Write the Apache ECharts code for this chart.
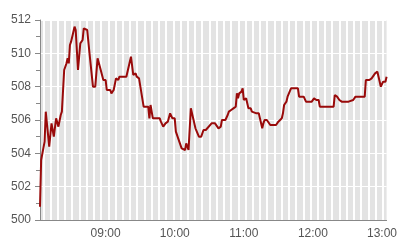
<!DOCTYPE html>
<html><head><meta charset="utf-8">
<script src="https://cdn.jsdelivr.net/npm/echarts@6/dist/echarts.min.js"></script>
<style>html,body{margin:0;padding:0;background:#fff}#c{width:400px;height:240px}</style>
</head><body><div id="c"></div>
<script>
const times = ['08:03','08:04','08:07','08:08','08:09','08:11','08:13','08:15','08:17','08:19','08:21','08:22','08:24','08:26','08:27','08:28','08:29','08:30','08:33','08:34','08:36','08:38','08:40','08:41','08:44','08:46','08:47','08:49','08:51','08:53','08:55','08:56','08:58','09:00','09:01','09:04','09:05','09:07','09:09','09:11','09:12','09:18','09:20','09:22','09:24','09:26','09:27','09:29','09:30','09:33','09:37','09:38','09:39','09:40','09:41','09:47','09:48','09:50','09:52','09:54','09:56','09:58','10:00','10:01','10:03','10:06','10:09','10:10','10:12','10:14','10:17','10:18','10:21','10:23','10:25','10:27','10:32','10:35','10:38','10:40','10:41','10:44','10:46','10:47','10:49','10:51','10:53','10:54','10:55','10:56','10:58','10:59','11:00','11:02','11:04','11:06','11:07','11:11','11:13','11:14','11:16','11:17','11:18','11:20','11:23','11:28','11:30','11:33','11:34','11:35','11:37','11:38','11:41','11:47','11:48','11:52','11:54','11:59','12:01','12:03','12:05','12:06','12:18','12:19','12:21','12:23','12:25','12:31','12:32','12:35','12:37','12:45','12:46','12:49','12:51','12:52','12:54','12:56','12:57','12:59','13:00','13:01','13:03','13:04'];
const prices = [500.8,503.6,504.7,506.5,506.6,504.4,505.8,505.0,506.1,505.6,506.3,506.5,509.0,509.4,509.7,509.4,510.5,510.7,511.6,511.4,509.0,510.6,510.8,511.5,511.4,510.0,509.9,508.0,508.0,509.7,509.2,509.2,508.4,508.4,507.8,507.8,507.6,507.8,508.5,508.4,508.6,508.6,509.2,509.8,508.7,508.8,508.6,508.5,508.6,506.8,506.8,506.1,506.9,506.8,506.1,506.1,505.9,505.6,505.8,505.9,506.4,506.1,506.1,505.3,504.9,504.3,504.2,504.6,504.2,506.7,505.8,505.5,505.0,505.0,505.4,505.4,505.8,505.8,505.5,505.6,506.0,506.0,506.3,506.5,506.6,506.7,506.8,507.6,507.3,507.6,507.7,507.9,507.2,507.3,506.7,506.7,506.5,506.4,506.4,506.1,505.5,505.8,506.0,506.0,505.7,505.7,505.9,506.1,506.4,506.9,507.1,507.4,507.9,507.9,507.4,507.4,507.1,507.1,507.3,507.2,507.2,506.8,506.8,507.5,507.4,507.2,507.1,507.1,507.2,507.2,507.4,507.4,508.4,508.4,508.5,508.6,508.8,508.9,508.6,508.0,508.0,508.3,508.3,508.6];
const hourLabels = ['09:00','10:00','11:00','12:00','13:00'];
const yMin = 500, yMax = 512, yStep = 2;

function toMin(s){ const p = s.split(':'); return (+p[0]) * 60 + (+p[1]); }
function fmt(m){ const h = Math.floor(m / 60), mm = Math.round(m % 60); return (h < 10 ? '0' : '') + h + ':' + (mm < 10 ? '0' : '') + mm; }

const seriesData = times.map((t, i) => [toMin(t), prices[i]]);
const xMin = toMin(times[0]), xMax = toMin(times[times.length - 1]);

// vertical background stripes (style only)
const stripeVals = [];
for (let k = 0; k < 48; k++) stripeVals.push(485.83 + 6.274 * k);

const chart = echarts.init(document.getElementById('c'), null, {renderer: 'canvas'});
chart.setOption({
  animation: false,
  grid: {left: 40, right: 9, top: 20, bottom: 20, show: true, backgroundColor: '#e3e3e3', borderWidth: 0},
  xAxis: {
    type: 'value', min: xMin, max: xMax,
    axisLine: {show: true, lineStyle: {color: '#888', width: 1}},
    axisTick: {show: false, customValues: stripeVals},
    axisLabel: {customValues: hourLabels.map(toMin), formatter: v => fmt(v), color: '#555', fontSize: 12, fontFamily: 'Liberation Sans, Arial, sans-serif', margin: 8},
    splitLine: {show: true, lineStyle: {color: '#ffffff', width: 2}}
  },
  yAxis: {
    type: 'value', min: yMin, max: yMax, interval: yStep,
    axisLine: {show: true, lineStyle: {color: '#888', width: 1}},
    axisTick: {show: true, length: 5, lineStyle: {color: '#888'}},
    minorTick: {show: true, splitNumber: 2, length: 4, lineStyle: {color: '#888'}},
    axisLabel: {color: '#555', fontSize: 12, fontFamily: 'Liberation Sans, Arial, sans-serif', margin: 9},
    splitLine: {show: true, lineStyle: {color: '#ffffff', width: 1}}
  },
  series: [{
    type: 'line', data: seriesData, showSymbol: false, symbol: 'none',
    lineStyle: {color: '#990a0a', width: 2}, z: 5
  }]
});
</script></body></html>
